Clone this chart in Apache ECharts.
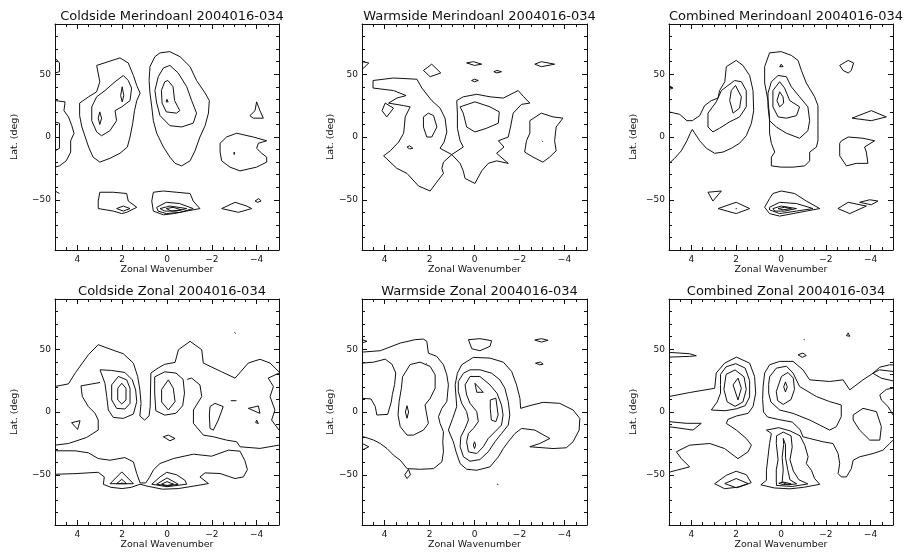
<!DOCTYPE html>
<html><head><meta charset="utf-8">
<script src="https://cdn.jsdelivr.net/npm/echarts@6/dist/echarts.min.js"></script>
<style>html,body{margin:0;padding:0;background:#fff}#c{width:906px;height:555px}</style>
</head><body><div id="c"></div>
<script>
// ---- data: contour polylines in (zonal wavenumber, latitude) space ----
// each entry: [closed(1)/open(0), [[wavenumber, lat], ...]]
const titles = ["Coldside Merindoanl 2004016-034","Warmside Merindoanl 2004016-034","Combined Merindoanl 2004016-034",
                "Coldside Zonal 2004016-034","Warmside Zonal 2004016-034","Combined Zonal 2004016-034"];
const xTickLabels = [4,2,0,-2,-4];
const yTickLabels = [-50,0,50];
const xName = "Zonal Wavenumber";
const yName = "Lat. (deg)";

const coldMer = [
 [0,[[5,63],[4.8,59],[4.8,52],[5,51]]],
 [0,[[5,29],[4.55,28],[4.6,21],[4.4,16],[4.25,9],[4.15,3],[4.3,-3],[4.3,-12],[4.5,-19],[4.8,-23],[5,-24]]],
 [0,[[5,12],[4.8,11],[4.8,0],[4.8,-9],[5,-11]]],
 [0,[[5,-43],[4.8,-45]]],
 [1,[[3.14,57],[2.1,63],[1.73,59],[1.5,49],[1.35,41],[1.2,35],[1.35,29],[1.45,21],[1.53,11],[1.65,0],[1.77,-8],[2.1,-13],[2.55,-17],[3,-20],[3.3,-16],[3.5,-8],[3.65,0],[3.8,8],[3.9,17],[3.9,27],[3.5,32],[3.14,36],[3,44]]],
 [1,[[1.95,49],[2.32,44],[2.77,37],[3.14,32],[3.36,24],[3.36,13],[3.14,4],[2.92,1],[2.55,5],[2.25,13],[2.32,21],[2.02,24],[1.65,29],[1.58,39],[1.73,45]]],
 [1,[[3,20],[2.92,15],[3,10],[3.07,15]]],
 [1,[[2,40],[1.93,33],[2,28],[2.07,33]]],
 [1,[[0.31,67],[-0.12,68],[-0.58,64],[-1.03,56],[-1.32,45],[-1.7,35],[-1.89,29],[-1.85,19],[-1.7,9],[-1.47,0],[-1.25,-11],[-1.03,-19],[-0.65,-23],[-0.36,-21],[-0.13,-16],[0.16,-8],[0.46,3],[0.61,13],[0.68,24],[0.76,35],[0.8,45],[0.76,56],[0.54,64]]],
 [1,[[-0.13,57],[-0.5,51],[-0.88,40],[-1.1,29],[-1.32,19],[-1.17,11],[-0.65,8],[-0.13,9],[0.31,17],[0.46,27],[0.54,37],[0.39,48],[0.16,55]]],
 [1,[[-0.04,45],[-0.27,40],[-0.34,29],[-0.57,21],[-0.42,19],[0.03,20],[0.22,27],[0.25,37],[0.1,44]]],
 [1,[[0,30],[-0.05,28],[0,27],[0.04,28]]],
 [1,[[-2.37,-5],[-2.66,0],[-3.11,3],[-3.85,0],[-4.45,-3],[-4.08,-5],[-4,-9],[-4.23,-13],[-4.45,-16],[-4.45,-20],[-4,-24],[-3.26,-27],[-2.81,-24],[-2.44,-19],[-2.37,-12]]],
 [1,[[-3,-12],[-3.06,-13.5],[-3,-14],[-2.97,-13]]],
 [1,[[-4,28],[-4.15,21],[-4.3,15],[-3.85,15],[-3.7,17],[-3.93,21]]],
 [1,[[3,-44],[2.4,-44],[1.8,-45],[1.73,-51],[1.35,-56],[1.8,-60],[2.02,-61],[2.4,-59],[3.07,-57],[3.07,-51]]],
 [1,[[2.25,-57],[1.95,-55],[1.65,-57],[1.95,-59]]],
 [1,[[0.61,-44],[0.16,-43],[-0.42,-44],[-1.03,-45],[-1.17,-51],[-1.47,-57],[-0.88,-59],[-0.3,-61],[0.16,-62],[0.61,-59],[0.68,-51]]],
 [1,[[0.46,-56],[0.03,-52],[-0.56,-53],[-1.17,-57],[-0.58,-60],[0.03,-61],[0.4,-59]]],
 [1,[[0.31,-57],[-0.13,-55],[-0.88,-57],[-0.42,-59],[0.1,-59]]],
 [1,[[0.03,-57],[-0.27,-56],[-0.64,-58],[-0.2,-59]]],
 [1,[[-2.44,-57],[-3.04,-52],[-3.56,-55],[-3.78,-57],[-3.19,-60]]],
 [1,[[-3.93,-51],[-4.1,-49],[-4.2,-51],[-4.05,-52]]]
];

const warmMer = [
 [0,[[5,60],[4.7,59],[4.92,55],[5,54]]],
 [1,[[4.51,45],[3.6,47],[2.56,46],[2.34,39],[1.9,29],[1.53,23],[1.31,15],[1.23,4],[1.35,-4],[1.53,-9],[1.01,-14],[1.38,-20],[1.45,-25],[1.38,-29],[1.68,-36],[1.97,-43],[2.49,-39],[3,-29],[3.45,-25],[4.04,-15],[3.74,-11],[3.37,-4],[3.15,3],[3.12,8],[3.08,16],[2.86,24],[3.15,25],[3.82,27],[3.45,31],[3.04,33],[3.6,37],[4.51,39]]],
 [1,[[3.97,27],[3.6,23],[3.9,16],[4.11,21]]],
 [1,[[2.27,16],[2.05,19],[1.82,17],[1.67,8],[1.9,0],[2.12,0],[2.27,8]]],
 [1,[[3,-8],[2.88,-7],[2.74,-9],[2.88,-9.5]]],
 [1,[[1.01,-14],[0.5,-8],[0.64,-3],[0.76,7],[0.76,19],[0.79,29],[0.5,32],[-0.1,34],[-0.69,32],[-1.28,31],[-1.94,37],[-2.19,32],[-2.46,27],[-2.09,26],[-1.72,19],[-1.6,8],[-1.5,0],[-1.06,-3],[-1.31,-8],[-0.98,-13],[-1.5,-21],[-0.98,-19],[-0.61,-21],[-0.32,-27],[-0.02,-37],[0.42,-33],[0.5,-27],[0.64,-21]]],
 [1,[[0.64,24],[-0.02,28],[-0.69,24],[-1.1,20],[-1.06,11],[-0.54,7],[-0.02,4],[0.35,8],[0.5,19]]],
 [1,[[-2.46,13],[-2.97,19],[-3.49,16],[-3.93,15],[-3.63,8],[-3.56,-3],[-3.63,-11],[-3.34,-16],[-3.04,-20],[-2.6,-16],[-2.23,-12],[-2.31,-3],[-2.46,3]]],
 [1,[[-3,-3],[-3.04,-3.8],[-3,-4],[-2.98,-3.5]]],
 [1,[[2.27,53],[1.9,58],[1.5,51],[1.97,48]]],
 [1,[[0.35,59],[0.05,60],[-0.32,58],[0,57]]],
 [1,[[0.13,45],[0,46],[-0.17,45],[0,44]]],
 [1,[[-0.86,52],[-1,53],[-1.2,52],[-1,51]]],
 [1,[[-2.68,58],[-2.97,60],[-3.56,58],[-2.97,56]]]
];

const combMer = [
 [0,[[5,41],[4.82,39],[4.97,38]]],
 [0,[[5,20],[4.52,18],[4.2,13],[3.96,13],[3.63,17],[3.41,25],[3.11,29],[2.81,31],[2.74,37],[2.51,44],[2.44,56],[2,61],[1.7,57],[1.4,49],[1.25,37],[1.22,21],[1.32,11],[1.55,1],[1.85,-5],[2.22,-9],[2.59,-12],[2.96,-13],[3.33,-9],[3.63,-3],[3.85,3],[3.96,6],[4.05,3],[4.2,-3],[4.45,-11],[4.75,-17],[5,-21]]],
 [1,[[2.07,45],[1.77,44],[1.55,37],[1.55,24],[1.85,16],[2.3,12],[2.74,7],[3.04,4],[3.26,8],[3.26,19],[2.89,28],[2.66,37],[2.37,41]]],
 [1,[[2.03,41],[1.77,32],[1.85,23],[2.14,19],[2.29,29],[2.22,37]]],
 [1,[[0.51,67],[-0.01,68],[-0.46,65],[-0.76,61],[-0.91,53],[-1.13,43],[-1.5,32],[-1.65,25],[-1.65,13],[-1.65,-3],[-1.58,-8],[-1.28,-12],[-1.28,-19],[-1.06,-23],[-0.54,-24],[-0.01,-24],[0.43,-23],[0.43,-16],[0.28,-12],[0.43,-5],[0.51,3],[0.51,16],[0.58,29],[0.73,43],[0.73,56]]],
 [1,[[0.13,49],[-0.24,48],[-0.46,40],[-0.83,32],[-1.2,24],[-1.28,13],[-1.2,5],[-0.83,-1],[-0.24,3],[0.21,8],[0.51,13],[0.58,24],[0.58,35],[0.43,44]]],
 [1,[[0.06,44],[-0.16,39],[-0.39,29],[-0.83,24],[-0.69,17],[-0.24,15],[0.13,16],[0.36,24],[0.36,37]]],
 [1,[[0.06,36],[-0.09,32],[-0.12,27],[0.06,24],[0.18,29]]],
 [1,[[-0.01,58],[-0.09,56],[-0.01,55],[0.06,56]]],
 [1,[[-2.62,57],[-3,61],[-3.24,59],[-3.14,53],[-3,51],[-2.77,53]]],
 [1,[[-3.17,15],[-4.03,21],[-4.7,16],[-4.03,13]]],
 [1,[[-2.7,-3],[-3,0],[-3.66,-1],[-4.18,-3],[-3.73,-8],[-3.81,-12],[-3.88,-21],[-3.36,-21],[-2.92,-23],[-2.62,-15],[-2.62,-5]]],
 [1,[[3.26,-44],[2.66,-43],[3.04,-51]]],
 [1,[[2.81,-57],[2,-52],[1.4,-57],[2,-61]]],
 [1,[[2,-56.5],[1.97,-57],[2,-57.5],[2.03,-57]]],
 [1,[[0.51,-49],[0.36,-45],[-0.01,-43],[-0.61,-45],[-1.13,-51],[-1.73,-57],[-1.13,-59],[-0.54,-61],[0.06,-63],[0.51,-61],[0.73,-56]]],
 [1,[[0.51,-56],[0.06,-52],[-0.69,-53],[-1.43,-57],[-0.69,-59],[0.06,-61],[0.51,-58]]],
 [1,[[0.36,-57],[-0.01,-55],[-0.69,-57],[-0.16,-59],[0.28,-59]]],
 [1,[[0.13,-57],[-0.16,-56],[-0.46,-57],[-0.09,-58]]],
 [1,[[-2.54,-57],[-3,-52],[-3.81,-55],[-3.07,-61]]],
 [1,[[-3.51,-52],[-3.96,-50],[-4.33,-51],[-4.03,-54]]]
];

const coldZon = [
 [0,[[5,20.3],[4.4,22.4],[4.08,31.5],[3.51,45.6],[3.07,53.6],[2.54,50.1],[1.95,46.4],[1.5,38.9],[1.31,28.3],[1.21,17.6],[1.16,6.9],[1.21,-3.2],[1.0,-6.5],[0.8,-3],[0.75,4.3],[0.72,31],[0.4,35],[0.1,38],[-0.36,39.5],[-0.51,49.6],[-1.03,56.3],[-1.55,49.6],[-1.62,39],[-2.44,32],[-3.04,27],[-3.63,39],[-4.15,42],[-4.6,39],[-5,32]]],
 [1,[[2.99,33.6],[2.47,33.1],[1.88,31.5],[1.55,25.6],[1.4,17.6],[1.35,8.3],[1.5,-1.6],[1.95,-5.1],[2.4,-4.3],[2.62,1.6],[2.69,12.3],[2.77,22.9]]],
 [1,[[2.47,21.6],[2.17,28.3],[1.8,25.6],[1.65,18.9],[1.65,6.9],[1.88,2.4],[2.25,2.9],[2.47,9.6]]],
 [1,[[2.02,22.9],[1.83,18.9],[1.83,9.6],[2.02,6.4],[2.2,9.6],[2.2,18.9]]],
 [0,[[5,-26.4],[4.4,-25.1],[3.59,-20.3],[3.07,-14.4],[3.07,-6.4],[3.21,-1.1],[3.51,4.3],[3.78,12.3],[3.84,20.8],[2.99,23.5]]],
 [1,[[4.26,-8.5],[3.88,-6.9],[3.99,-13.9]]],
 [1,[[0.55,28],[0.1,32],[-0.4,31],[-0.72,26],[-0.78,15],[-0.7,5],[-0.4,-1],[0.1,-2.5],[0.5,1],[0.55,15]]],
 [1,[[0.24,18],[-0.06,25.6],[-0.28,19],[-0.36,8.3],[-0.06,1.6],[0.24,8]]],
 [0,[[-5,-26.4],[-4.15,-29],[-3.26,-27.7],[-3.11,-23.7],[-2.66,-22.4],[-2.07,-19.7],[-1.62,-18.4],[-1.18,-9],[-1.18,1.6],[-1.55,12.3],[-1.47,21.6],[-1.1,27],[-0.9,26]]],
 [1,[[0.16,-19.7],[-0.06,-18.4],[-0.36,-21.1],[-0.13,-22.9]]],
 [0,[[5,-30.9],[4.11,-30.9],[3.51,-32.5],[3.07,-37.1],[2.54,-38.4],[1.88,-36.3],[1.5,-39.7],[1.35,-49.1],[1.2,-56.5],[0.95,-56.5],[0.78,-52],[0.6,-46],[0.31,-41],[-0.3,-37],[-1.18,-33.6],[-1.99,-35.2],[-2.74,-30.4],[-3.26,-31.2],[-3.48,-38.9],[-3.59,-45.9],[-3.41,-51.7],[-3.04,-53],[-2.37,-49],[-1.7,-48.5],[-1.47,-51.7],[-1.85,-57],[-1.2,-59],[-0.5,-61],[0.2,-61.5],[0.9,-59],[1.2,-57.5],[1.6,-60],[2.0,-61],[2.5,-60],[2.84,-57.6],[2.8,-51.7],[3.07,-48],[4.11,-49.1],[5,-49.6]]],
 [1,[[2.54,-57.1],[2.02,-47.7],[1.5,-57.1]]],
 [1,[[2.25,-57.1],[2.02,-53.6],[1.8,-57.1]]],
 [0,[[2.02,-56],[2.0,-56.8]]],
 [1,[[0.68,-57.5],[0.31,-51.7],[0.01,-48],[-0.43,-50],[-0.8,-54.4],[-0.88,-57.5],[0,-59.5]]],
 [1,[[0.46,-57.5],[0,-52.5],[-0.5,-57.5],[0,-59]]],
 [1,[[0.25,-57.5],[0,-55.5],[-0.3,-57.5],[0,-58.5]]],
 [1,[[-1.92,4.3],[-2.14,6.9],[-2.51,4.3],[-2.29,-6.4],[-2.07,-14.4],[-1.92,-13.1],[-1.89,-2.4]]],
 [0,[[-2.85,9],[-3.1,9]]],
 [1,[[-3.63,2.9],[-4.08,4.8],[-4.15,-1.1]]],
 [1,[[-4,-6.4],[-4.08,-9.1],[-4,-10.4],[-3.96,-8.5]]],
 [0,[[-3.02,63.5],[-3.06,62.5]]],
 [0,[[-5,31],[-4.52,27],[-4.75,20.3],[-4.6,12.3],[-4.82,1.6],[-4.67,-6.4],[-5,-14.4]]]
];

const warmZon = [
 [0,[[5,57.6],[4.78,56.3],[5,55]]],
 [0,[[5,47.7],[4.19,48.8],[3.3,54.9],[2.64,57.6],[2.27,58.1],[2.12,56.3],[2.05,46.9],[1.68,44.3],[1.38,37.6],[1.23,29.6],[1.16,21.6],[1.23,8.3],[1.45,2.9],[1.6,-3.7],[1.53,-9.1],[1.38,-15.7],[1.41,-23.7],[1.38,-31.7],[1.45,-39.7],[1.82,-45.1],[2.41,-45.6],[3,-45.1],[3.3,-38.4],[3.6,-34.4],[3.89,-29.1],[4.19,-25.1],[4.48,-22.4],[4.93,-19.7],[5,-19.5]]],
 [0,[[5,38.9],[4.48,39.7],[3.97,42.1],[3.67,38.1],[3.5,31],[3.55,22],[3.65,14],[3.7,8],[3.86,-1.9],[4.34,-2.4],[4.41,4.3],[4.6,10.4],[5,10.9]]],
 [1,[[3.2,28],[2.86,37.8],[2.42,39.7],[1.97,36.3],[1.75,29.6],[1.75,18.9],[1.97,10.9],[2.2,5.6],[2.12,-2.4],[2.05,-9.1],[2.27,-14.4],[2.71,-18.4],[3,-18.4],[3.3,-11.7],[3.4,-2.4],[3.35,8.3],[3.25,18.9]]],
 [1,[[3,5],[2.93,0],[3,-5],[3.07,0]]],
 [0,[[2.15,39],[2.13,38.4]]],
 [1,[[2.93,-45.6],[3.1,-50],[3,-53],[2.85,-50]]],
 [0,[[5,-25],[4.7,-27.7],[5,-30.4]]],
 [1,[[1.16,-14.4],[0.97,-5.1],[0.79,4.3],[0.86,21.6],[0.76,30.9],[0.57,37.6],[0.05,43.5],[-0.69,42.9],[-1.28,39.7],[-1.65,32.3],[-1.87,21.6],[-2.02,10.9],[-2.05,2.9],[-2.46,5.1],[-3.05,7.7],[-3.79,6.9],[-4.38,1.6],[-4.68,-5.1],[-4.65,-14.4],[-4.38,-23.7],[-4.08,-28.5],[-3.49,-29.1],[-2.46,-27.7],[-2.9,-25.1],[-3.35,-21.1],[-2.68,-14.4],[-2.09,-13.1],[-1.8,-17.1],[-1.5,-23.7],[-1.28,-29.1],[-1.06,-35.7],[-0.69,-43.7],[-0.1,-46.4],[0.35,-45.6],[0.64,-41.1],[0.82,-31.7],[0.94,-23.7]]],
 [1,[[0.72,24.3],[0.49,30.9],[0.2,33.6],[-0.24,33.6],[-0.76,30.9],[-1.13,25.6],[-1.35,18.9],[-1.5,8.3],[-1.57,-2.4],[-1.5,-10.4],[-1.2,-17.1],[-0.91,-23.7],[-0.61,-31.7],[-0.24,-37.9],[0.2,-39.2],[0.49,-35.7],[0.64,-27.7],[0.61,-19.7],[0.42,-13.1],[0.27,-6.4],[0.35,0.3],[0.57,6.9],[0.72,16.3]]],
 [1,[[0.42,21.6],[0.2,28.3],[-0.24,28.3],[-0.69,21.6],[-1.0,14.9],[-1.2,5.6],[-1.27,-2.4],[-1.2,-10.4],[-0.91,-15.7],[-0.61,-21.1],[-0.39,-27.7],[-0.1,-33.1],[0.27,-31.7],[0.35,-23.7],[0.27,-17.1],[0.05,-13.1],[-0.17,-7.7],[-0.1,0.3],[0.2,6.9],[0.35,13.6]]],
 [1,[[-0.02,22.9],[-0.39,15.7],[-0.1,15.7]]],
 [1,[[-0.7,9.6],[-0.95,11],[-1.05,-2.4],[-0.95,-7.7],[-0.75,-6.4],[-0.7,2.9]]],
 [1,[[0,-23.7],[-0.05,-26.4],[0,-29.1],[0.05,-26.4]]],
 [1,[[0.27,57.6],[-0.24,58.4],[-0.76,56.8],[-0.69,52.3],[-0.24,48.8],[0.12,50.4]]],
 [1,[[-2.68,57.3],[-2.97,58.4],[-3.27,57.1],[-2.97,55.7]]],
 [1,[[-2.71,38.9],[-2.93,39.7],[-3.05,38.1],[-2.9,37.6]]],
 [1,[[-1,-57.3],[-1.06,-57.9],[-1,-58.5],[-0.94,-57.9]]]
];

const combZon = [
 [0,[[5,47.5],[4.08,46.4],[3.78,44.8],[4.08,44.3],[5,43.7]]],
 [0,[[5,12.3],[4.08,15.5],[2.96,18.9],[2.89,31],[2.52,38.9],[1.99,43.7],[1.4,38.9],[1.18,28.3],[1.13,15],[1.25,4.3],[1.47,-1.1],[1.99,-3.2],[2.37,-5.9],[2.44,-9.1],[1.99,-14.4],[1.55,-21.1],[1.32,-26.4],[1.47,-31.7],[1.92,-37.1],[2.07,-35.2],[2.52,-29.1],[3.18,-25.1],[4.08,-26.4],[4.67,-31.7],[4.45,-37.1],[4.08,-43.7],[4.67,-46.4],[5,-48]]],
 [1,[[2.7,30],[2.45,36],[2.02,38.5],[1.6,35],[1.4,25],[1.4,12],[1.6,5],[2,2.5],[2.5,1],[3.11,1.6],[2.85,8],[2.7,15],[2.7,22]]],
 [1,[[2.45,30],[2.05,33.5],[1.65,28],[1.55,18],[1.7,8],[2.05,4.5],[2.4,8],[2.55,18]]],
 [1,[[2.14,21.6],[1.92,27],[1.77,18.9],[1.92,9.6]]],
 [0,[[5,-7.7],[4.23,-9],[3.56,-9],[3.93,-14.4],[5,-11.7]]],
 [1,[[2.96,-57.1],[2.44,-50.4],[2,-47.2],[1.55,-49.9],[1.33,-56.3],[1.85,-59.7],[2.52,-61.1]]],
 [1,[[2.51,-57],[2,-53],[1.47,-57],[2,-60.3]]],
 [0,[[-5,37.5],[-4.85,37.6],[-4.41,35.7],[-4.11,30.9],[-3.66,25.6],[-3.07,17.6],[-2.77,25.6],[-2.17,24.3],[-1.28,25.6],[-0.98,33.6],[-0.54,40.3],[0.06,40.3],[0.51,37.6],[0.73,31],[0.8,20],[0.82,10],[0.78,0],[0.6,-4],[0.1,-6],[-0.5,-8],[-0.85,-14],[-0.98,-19.7],[-1.28,-21.1],[-1.87,-23.7],[-2.32,-25.1],[-2.55,-33.1],[-2.62,-41.1],[-2.55,-49.1],[-2.69,-51.7],[-2.92,-51.7],[-3.14,-45.1],[-3.22,-38.4],[-3.51,-35.7],[-4.11,-33.1],[-4.55,-30.4],[-4.85,-25.1],[-5,-22.4]]],
 [1,[[0.65,-14.4],[0.43,-17.1],[0.51,-25.1],[0.58,-35.7],[0.65,-46.4],[0.65,-54.4],[0.9,-58],[0.3,-60.5],[-0.4,-61.2],[-1,-60],[-1.73,-57.6],[-1.5,-53],[-1.36,-46.4],[-1.13,-41.1],[-1.21,-35.7],[-1.06,-26.4],[-0.85,-19],[-0.4,-15],[0.1,-12.5]]],
 [1,[[0.21,-55],[0.21,-46],[0.13,-38],[0.21,-25],[0.2,-19],[-0.1,-16],[-0.45,-19],[-0.5,-28],[-0.4,-38],[-0.55,-47],[-0.8,-54],[-1.2,-57.3],[-0.5,-59.3],[0.2,-58.5]]],
 [1,[[-0.05,-56],[-0.1,-46],[-0.05,-36],[-0.12,-26],[-0.1,-21],[-0.2,-26],[-0.2,-36],[-0.3,-46],[-0.4,-54],[-0.7,-57.2],[-0.3,-58]]],
 [1,[[0.1,-56.8],[-0.1,-55.8],[-0.45,-57.2],[-0.1,-57.8]]],
 [1,[[0.55,22],[0.51,28],[0.21,34.9],[-0.24,36.5],[-0.54,31],[-0.83,20.3],[-1.58,12.3],[-2.17,8.3],[-2.69,5.6],[-2.69,-3.7],[-2.47,-11.7],[-2.17,-14.4],[-1.73,-10.4],[-1.28,-6.4],[-0.54,-1.1],[0.06,1.6],[0.45,8],[0.55,15]]],
 [1,[[0.21,16.3],[-0.02,28.3],[-0.31,31.5],[-0.55,27],[-0.6,18],[-0.45,10],[-0.1,6],[0.15,9]]],
 [1,[[-0.2,24],[-0.28,20],[-0.2,16],[-0.12,20]]],
 [1,[[-3.22,-2.4],[-3.66,2.9],[-4.26,0.3],[-4.48,-11.7],[-4.41,-22.4],[-3.96,-22.4],[-3.51,-14.4],[-3.22,-6.4]]],
 [0,[[-5,32.3],[-4.4,33.6],[-4.1,30.9],[-4.48,26.9],[-5,24.8]]],
 [0,[[-5,-2.4],[-4.78,4.3],[-4.48,9.6],[-4.41,13.6],[-4.7,18],[-5,19]]],
 [0,[[-1.03,58],[-1.05,57.3]]],
 [1,[[-3,63],[-3.07,60.3],[-3,59],[-2.92,60.8]]],
 [1,[[-0.76,45.6],[-0.98,46.9],[-1.13,45],[-0.95,43.5]]]
];

const panelData = [coldMer, warmMer, combMer, coldZon, warmZon, combZon];

// ---- layout ----
const boxes = [
 {l:55, t:24, w:224, h:226, yGap:35},
 {l:362, t:24, w:225, h:226, yGap:19},
 {l:669, t:24, w:224, h:226, yGap:30},
 {l:55, t:299, w:224, h:226, yGap:35},
 {l:362, t:299, w:225, h:226, yGap:19},
 {l:669, t:299, w:224, h:226, yGap:30}
];
const FONT = "DejaVu Sans";
const INK = "#111";
const fmt = v => (v < 0 ? "\u2212" + (-v) : String(v));

const grid = [], xAxis = [], yAxis = [], series = [], title = [];
boxes.forEach((b, i) => {
  grid.push({left:b.l, top:b.t, width:b.w, height:b.h, containLabel:false, outerBoundsMode:'none'});
  title.push({text: titles[i], left: b.l + b.w/2, top: b.t - 19, textAlign:'center',
    textStyle:{fontFamily:FONT, fontSize:13, fontWeight:'normal', color:INK}});
  const xBase = {gridIndex:i, type:'value', min:-5, max:5, inverse:true, splitLine:{show:false}};
  const yBase = {gridIndex:i, type:'value', min:-90, max:90, splitLine:{show:false}};
  const line = {show:true, onZero:false, lineStyle:{color:INK, width:1}};
  const noLine = {show:false, onZero:false};
  xAxis.push(Object.assign({}, xBase, {position:'bottom', interval:0.5, axisLine:line,
    axisTick:{inside:true, length:3, lineStyle:{color:INK}},
    axisLabel:{customValues:xTickLabels, formatter:fmt, margin:5, fontFamily:FONT, fontSize:9, color:INK},
    name:xName, nameLocation:'middle', nameGap:14, nameTextStyle:{fontFamily:FONT, fontSize:9.5, color:INK}}));
  xAxis.push(Object.assign({}, xBase, {position:'bottom', axisLine:noLine,
    axisTick:{inside:true, length:5, customValues:xTickLabels, lineStyle:{color:INK}}, axisLabel:{show:false}}));
  xAxis.push(Object.assign({}, xBase, {position:'top', interval:0.5, axisLine:line,
    axisTick:{inside:true, length:3, lineStyle:{color:INK}}, axisLabel:{show:false}}));
  xAxis.push(Object.assign({}, xBase, {position:'top', axisLine:noLine,
    axisTick:{inside:true, length:5, customValues:xTickLabels, lineStyle:{color:INK}}, axisLabel:{show:false}}));
  yAxis.push(Object.assign({}, yBase, {position:'left', interval:10, axisLine:line,
    axisTick:{inside:true, length:3, lineStyle:{color:INK}},
    axisLabel:{customValues:yTickLabels, formatter:fmt, margin:4, fontFamily:FONT, fontSize:9, color:INK},
    name:yName, nameLocation:'middle', nameRotate:90, nameGap:b.yGap, nameTextStyle:{fontFamily:FONT, fontSize:9.5, color:INK}}));
  yAxis.push(Object.assign({}, yBase, {position:'left', axisLine:noLine,
    axisTick:{inside:true, length:5, customValues:yTickLabels, lineStyle:{color:INK}}, axisLabel:{show:false}}));
  yAxis.push(Object.assign({}, yBase, {position:'right', interval:10, axisLine:line,
    axisTick:{inside:true, length:3, lineStyle:{color:INK}}, axisLabel:{show:false}}));
  yAxis.push(Object.assign({}, yBase, {position:'right', axisLine:noLine,
    axisTick:{inside:true, length:5, customValues:yTickLabels, lineStyle:{color:INK}}, axisLabel:{show:false}}));

  panelData[i].forEach(c => {
    const pts = c[1].slice();
    if (c[0]) pts.push(pts[0]);
    series.push({type:'line', xAxisIndex:4*i, yAxisIndex:4*i, data:pts, showSymbol:false, symbol:'none',
      lineStyle:{color:INK, width:1}, silent:true, animation:false, clip:true});
  });
});

const chart = echarts.init(document.getElementById('c'), null, {renderer:'canvas'});
chart.setOption({backgroundColor:'#fff', animation:false, title, grid, xAxis, yAxis, series});
</script></body></html>
